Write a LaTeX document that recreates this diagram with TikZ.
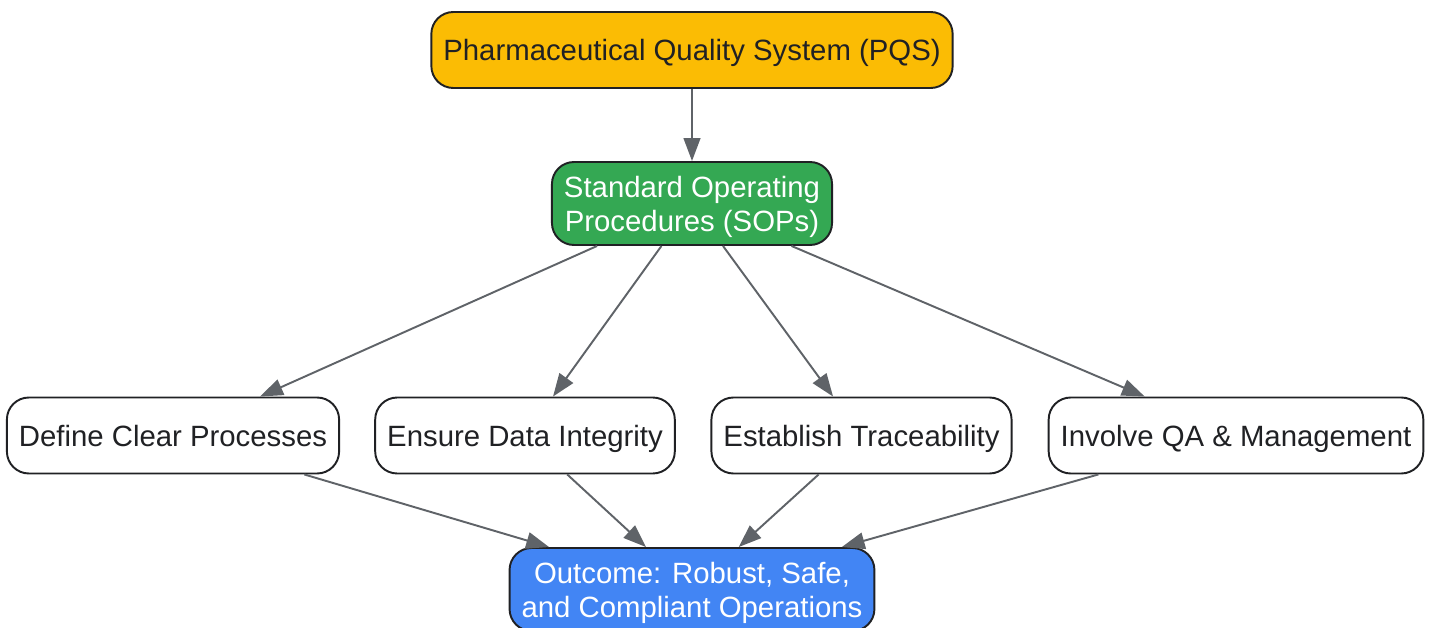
\documentclass[tikz,border=0pt]{standalone}
\usepackage{fontspec}
\setmainfont{Liberation Sans}
\usetikzlibrary{arrows.meta}
\definecolor{pqsyellow}{HTML}{FBBC04}
\definecolor{sopgreen}{HTML}{34A853}
\definecolor{outblue}{HTML}{4285F4}
\definecolor{edgegray}{HTML}{5F6368}
\definecolor{inkdark}{HTML}{202124}
\tikzset{
box/.style={
	  draw=inkdark, line width=1.1pt, rounded corners=0.44cm,
	    fill=white, text=inkdark, inner xsep=0.24cm, minimum height=1.52cm,
	    text height=15.8pt, text depth=3.6pt,
	    align=center, font=\fontsize{16.7}{19}\selectfont},
twoline/.style={box, minimum height=1.66cm, text=white,
	  text height=35pt, text depth=3.6pt},
flow/.style={draw=edgegray, line width=1.1pt,
	  -{Triangle[length=13pt,width=9.5pt]}}
}

\begin{document}
\begin{tikzpicture}[x=0.02cm, y=-0.02cm]
	\useasboundingbox (0,0) rectangle (1431,628);
	\node[box, fill=pqsyellow] (pqs) at (692,50) {Pharmaceutical Quality System (PQS)};
	\node[twoline, fill=sopgreen] (sop) at (692,203.5) {Standard Operating\\Procedures (SOPs)};
	\node[box] (define) at (173,435.5) {Define Clear Processes};
	\node[box] (ensure) at (525,435.5) {Ensure Data Integrity};
	\node[box] (establish) at (861.5,435.5) {Establish Traceability};
	\node[box] (involve) at (1236,435.5) {Involve QA \& Management};
	\node[twoline, fill=outblue] (outcome) at (692,589.5) {Outcome: Robust, Safe,\\and Compliant Operations};

	\draw[flow] (pqs) -- (sop);
	\foreach \step in {define, ensure, establish, involve} {
		\draw[flow] (sop) -- (\step);
		\draw[flow] (\step) -- (outcome);
	}
\end{tikzpicture}
\end{document}
